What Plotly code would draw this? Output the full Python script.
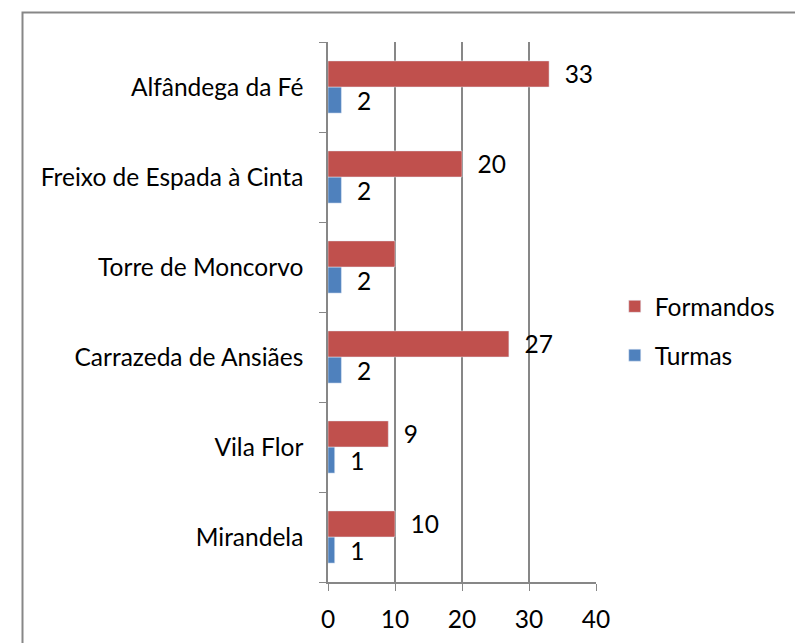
import plotly.graph_objects as go

categories = ["Mirandela", "Vila Flor", "Carrazeda de Ansiães", "Torre de Moncorvo",
              "Freixo de Espada à Cinta", "Alfândega da Fé"]
formandos = [10, 9, 27, 10, 20, 33]
formandos_labels = ["10", "9", "27", "", "20", "33"]
turmas = [1, 1, 2, 2, 2, 2]
turmas_labels = ["1", "1", "2", "2", "2", "2"]
x_ticks = [0, 10, 20, 30, 40]

FONT = "Lato"
FS = 24.5
fig = go.Figure()
fig.add_trace(go.Bar(
    y=categories, x=turmas, orientation="h", name="Turmas", legendgroup="t",
    legendrank=2,
    marker=dict(color="#4F81BD"),
    text=["  " + t for t in turmas_labels], textposition="outside", constraintext="none",
    textfont=dict(family=FONT, size=FS, color="black"), cliponaxis=False,
))
fig.add_trace(go.Bar(
    y=categories, x=formandos, orientation="h", name="Formandos", legendgroup="f",
    legendrank=1,
    marker=dict(color="#C0504D"),
    text=["  " + t if t else "" for t in formandos_labels], textposition="outside",
    constraintext="none",
    textfont=dict(family=FONT, size=FS, color="black"), cliponaxis=False,
))

fig.update_layout(
    width=803, height=643,
    margin=dict(l=320, r=215, t=34, b=69),
    barmode="group", bargap=0.42, bargroupgap=0,
    plot_bgcolor="white", paper_bgcolor="white",
    font=dict(family=FONT, size=FS, color="black"),
    legend=dict(traceorder="grouped", x=1.07, y=0.465, xanchor="left", yanchor="middle",
                font=dict(family=FONT, size=FS), itemwidth=30, tracegroupgap=14),
    xaxis=dict(range=[0, 40], tickvals=x_ticks, showgrid=True, gridcolor="#878787",
               gridwidth=1.5, showline=True, linecolor="#878787", linewidth=1.5,
               ticks="outside", ticklen=7, tickcolor="#878787", zeroline=False,
               ticklabelstandoff=8, tickfont=dict(family=FONT, size=FS)),
    yaxis=dict(categoryorder="array", categoryarray=categories, showline=True,
               linecolor="#878787", linewidth=1.5, ticks="outside", ticklen=7,
               tickcolor="#878787", tickson="boundaries", showgrid=False,
               ticklabelstandoff=18, tickfont=dict(family=FONT, size=FS)),
    shapes=[dict(type="rect", xref="paper", yref="paper",
                 x0=(14.5 - 320) / 268, x1=(810 - 320) / 268,
                 y0=(574 - 650) / 540, y1=(574 - 4.5) / 540,
                 line=dict(color="#878787", width=2))],
)
fig.write_html("out.html")
